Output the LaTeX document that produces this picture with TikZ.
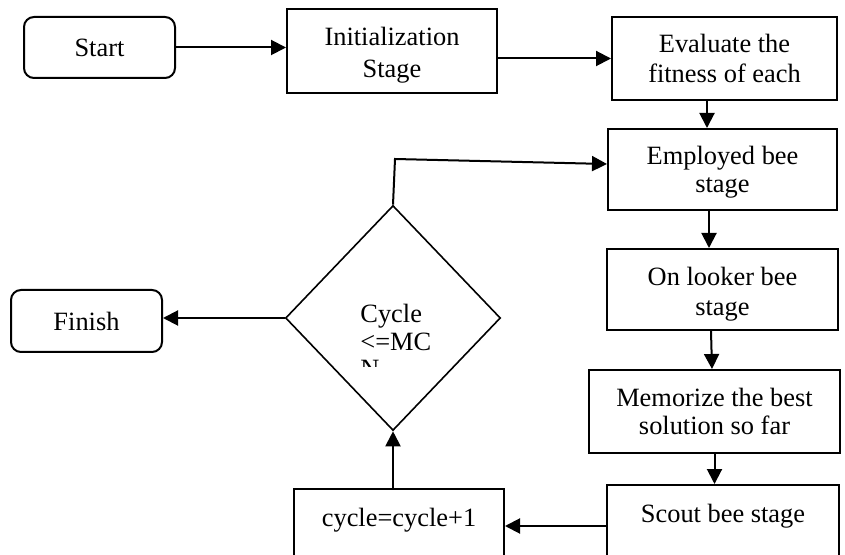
\documentclass[tikz,border=0pt]{standalone}
\usepackage{fontspec}
\setmainfont{Liberation Serif}
\usetikzlibrary{shapes.geometric,arrows.meta,calc}
\newcommand{\toppad}[1]{\rule{0pt}{#1}}
\begin{document}
\begin{tikzpicture}[x=0.5pt,y=-0.5pt,
  font=\fontsize{13.2}{15}\selectfont,
  box/.style={draw, line width=1pt, rectangle, align=center, inner sep=0pt},
  rbox/.style={box, rounded corners=5pt},
  openbox/.style={box, anchor=north, inner ysep=0pt, text height=18.5pt, text depth=45pt},
  arr/.style={-{Triangle[length=7.5pt,width=7.5pt]}, line width=1pt}]
\useasboundingbox (0,0) rectangle (845,555);
\clip (0,0) rectangle (845,555);
\fill[white] (0,0) rectangle (845,555);

\node[rbox, minimum width=75.5pt, minimum height=30.5pt] (start) at (99.5,47.5) {Start};
\node[box, minimum width=105pt, minimum height=42pt, font=\fontsize{13.2}{16}\selectfont] (init) at (392,51) {\toppad{13pt}Initialization\\Stage};
\node[box, minimum width=112.5pt, minimum height=41.5pt] (eval) at (724.5,58.5) {Evaluate the\\fitness of each};
\node[box, minimum width=114.5pt, minimum height=40.5pt, font=\fontsize{13.2}{14}\selectfont] (emp) at (722.5,169.5) {\toppad{12pt}Employed bee\\stage};
\node[box, minimum width=115.5pt, minimum height=40.5pt] (onl) at (722.5,289.5) {\toppad{13.5pt}On looker bee\\stage};
\node[box, minimum width=125.5pt, minimum height=41.5pt, font=\fontsize{13.2}{14}\selectfont] (mem) at (714.5,411.5) {Memorize the best\\solution so far};
\node[openbox, minimum width=116pt] (scout) at (723,484) {Scout bee stage};
\node[openbox, minimum width=105pt] (cyc) at (399,488) {cycle=cycle+1};
\node[rbox, minimum width=75.5pt, minimum height=31pt] (fin) at (86.5,321) {Finish};
\node[draw, diamond, line width=0.8pt, minimum width=107.5pt, minimum height=112.5pt, inner sep=0pt] (dia) at (393,318) {};

\begin{scope}
\clip (330,290) rectangle (470,366);
\node[anchor=base west, inner sep=0pt] (dtext) at (360,322)
  {\parbox[t]{60pt}{\raggedright\fontsize{13.2}{14}\selectfont Cycle\\<=MC\\N}};
\end{scope}

\coordinate (corner) at (395,159);

\draw[arr] (start.east) -- (start.east -| init.west);
\draw[arr] (init.east |- eval.west) -- (eval.west);
\draw[arr] ($(eval.south)+(-17.5,0)$) -- ($(emp.north)+(-15.5,0)$);
\draw[arr] ($(emp.south)+(-13.5,0)$) -- ($(onl.north)+(-13.5,0)$);
\draw[arr] ($(onl.south)+(-11.5,0)$) -- ($(mem.north)+(-2.5,0)$);
\draw[arr] (mem.south) -- (mem.south |- scout.north);
\draw[arr] (scout.west |- 0,526) -- (cyc.east |- 0,526);
\draw[arr] ($(cyc.north)+(-6,0)$) -- (dia.south);
\draw[arr] (dia.west) -- (fin.east |- dia.west);
\draw[arr] (dia.north) -- (corner) -- ($(emp.west)+(0,-5.5)$);
\end{tikzpicture}
\end{document}
